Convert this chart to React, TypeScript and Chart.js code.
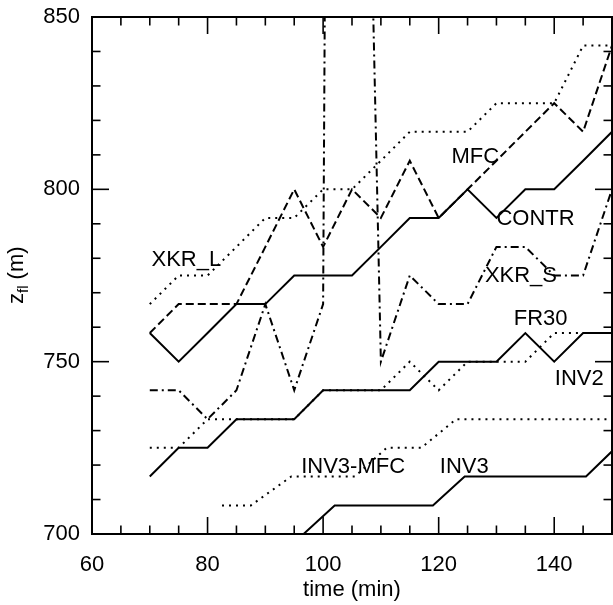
import React, { useEffect, useRef } from "react";
import { Chart, registerables } from "chart.js";
Chart.register(...registerables);

const FONT = "'Liberation Sans', Arial, Helvetica, sans-serif";

// x ticks / y ticks
const xMajorTicks = [60, 80, 100, 120, 140];
const yMajorTicks = [700, 750, 800, 850];

// common sampling times (min)
const times = [70, 75, 80, 85, 90, 95, 100, 105, 110, 115, 120, 125, 130, 135, 140, 145, 150];

const contr = [758.3, 750, 758.3, 766.7, 766.7, 775, 775, 775, 783.3, 791.7, 791.7, 800, 791.7, 800, 800, 808.3, 816.7];
const inv2 = [716.7, 725, 725, 733.3, 733.3, 733.3, 741.7, 741.7, 741.7, 741.7, 750, 750, 750, 758.3, 750, 758.3, 758.3];
const fr30 = [725, 725, 733.3, 733.3, 733.3, 733.3, 741.7, 741.7, 741.7, 750, 741.7, 750, 750, 750, 758.3, 758.3, 758.3];
const mfc = [758.3, 766.7, 766.7, 766.7, 783.3, 800, 783.3, 800, 791.7, 808.3, 791.7, 800, 808.3, 816.7, 825, 816.7, 841.7];
const xkrL = [766.7, 775, 775, 783.3, 791.7, 791.7, 800, 800, 808.3, 816.7, 816.7, 816.7, 825, 825, 825, 841.7, 841.7];

const xkrSTimes = [70, 75, 80, 85, 90, 95, 100, 102, 110, 115, 120, 125, 130, 135, 140, 145, 150];
const xkrS = [741.7, 741.7, 733.3, 741.7, 766.7, 741.7, 766.7, 1360, 750, 775, 766.7, 766.7, 783.3, 783.3, 775, 775, 800];

const inv3Times = [95, 102, 119, 124.5, 145.5, 150];
const inv3 = [697.5, 708.3, 708.3, 716.7, 716.7, 724];

const inv3MfcTimes = [82.5, 87.5, 94.5, 105.5, 111, 117, 123, 150];
const inv3Mfc = [708.3, 708.3, 716.7, 716.7, 725, 725, 733.3, 733.3];

// curve labels anchored in data coordinates (time, height)
const curveLabels = [
  { text: "XKR_L", t: 70.3, z: 777.8 },
  { text: "MFC", t: 122.2, z: 807.6 },
  { text: "CONTR", t: 130.0, z: 789.7 },
  { text: "XKR_S", t: 128.0, z: 773.2 },
  { text: "FR30", t: 133.0, z: 760.6 },
  { text: "INV2", t: 140.1, z: 743.2 },
  { text: "INV3-MFC", t: 96.2, z: 717.8 },
  { text: "INV3", t: 120.2, z: 717.8 },
];

const pts = (xs: number[], ys: number[]) => xs.map((x, i) => ({ x, y: ys[i] }));

const SOLID: number[] = [];
const DASHED = [8, 4];
const DOTTED = [2, 5];
const DASHDOT = [8, 4, 2, 4];

const mk = (label: string, data: any[], dash: number[]) => ({
  label,
  data,
  borderColor: "#000",
  backgroundColor: "#000",
  borderWidth: 2,
  borderDash: dash,
  pointRadius: 0,
  tension: 0,
  fill: false,
});

const framePlugin = {
  id: "frameTicks",
  afterDatasetsDraw(chart: any) {
    const { ctx, chartArea, scales } = chart;
    const { left, right, top, bottom } = chartArea;
    const x = scales.x;
    const y = scales.y;
    ctx.save();
    ctx.strokeStyle = "#000";
    ctx.lineWidth = 1.6;
    ctx.setLineDash([]);
    const line = (x1: number, y1: number, x2: number, y2: number) => {
      ctx.beginPath();
      ctx.moveTo(x1, y1);
      ctx.lineTo(x2, y2);
      ctx.stroke();
    };
    x.ticks.forEach((t: any) => {
      const px = x.getPixelForValue(t.value);
      const len = xMajorTicks.includes(t.value) ? 17 : 8.5;
      line(px, bottom, px, bottom - len);
      line(px, top, px, top + len);
    });
    y.ticks.forEach((t: any) => {
      const py = y.getPixelForValue(t.value);
      const len = yMajorTicks.includes(t.value) ? 17 : 8.5;
      line(left, py, left + len, py);
      line(right, py, right - len, py);
    });
    ctx.lineWidth = 2;
    ctx.strokeRect(left, top, right - left, bottom - top);

    // curve labels
    ctx.fillStyle = "#000";
    ctx.font = `22px ${FONT}`;
    ctx.textAlign = "left";
    ctx.textBaseline = "alphabetic";
    curveLabels.forEach((l) => {
      ctx.fillText(l.text, x.getPixelForValue(l.t), y.getPixelForValue(l.z));
    });

    // y title with subscript
    ctx.translate(23, 304);
    ctx.rotate(-Math.PI / 2);
    ctx.font = `22px ${FONT}`;
    ctx.fillText("z", 0, 0);
    let w = ctx.measureText("z").width;
    ctx.font = `15px ${FONT}`;
    ctx.fillText("fl", w, 5);
    w += ctx.measureText("fl").width;
    ctx.font = `22px ${FONT}`;
    ctx.fillText(" (m)", w, 0);
    ctx.restore();
  },
};

export default function App() {
  const ref = useRef<HTMLCanvasElement>(null);
  useEffect(() => {
    const canvas = ref.current!;
    const chart = new Chart(canvas, {
      type: "line",
      data: {
        datasets: [
          mk("CONTR", pts(times, contr), SOLID),
          mk("INV2", pts(times, inv2), SOLID),
          mk("INV3", pts(inv3Times, inv3), SOLID),
          mk("MFC", pts(times, mfc), DASHED),
          mk("XKR_L", pts(times, xkrL), DOTTED),
          mk("FR30", pts(times, fr30), DOTTED),
          mk("INV3-MFC", pts(inv3MfcTimes, inv3Mfc), DOTTED),
          mk("XKR_S", pts(xkrSTimes, xkrS), DASHDOT),
        ] as any,
      },
      options: {
        animation: false,
        responsive: false,
        maintainAspectRatio: false,
        layout: { autoPadding: false, padding: { top: 17, right: 1, left: 0, bottom: 0 } },
        plugins: { legend: { display: false }, tooltip: { enabled: false }, title: { display: false } },
        scales: {
          x: {
            type: "linear",
            min: 60,
            max: 150,
            grid: { display: false, drawTicks: false },
            border: { display: false },
            ticks: {
              stepSize: 5,
              includeBounds: false,
              autoSkip: false,
              maxRotation: 0,
              padding: 18,
              color: "#000",
              font: { family: FONT, size: 22 },
              callback: (v: any) => (xMajorTicks.includes(Number(v)) ? String(v) : ""),
            },
            title: {
              display: true,
              text: "time (min)",
              color: "#000",
              font: { family: FONT, size: 22 },
              padding: { top: 0, bottom: 2 },
            },
            afterFit: (s: any) => {
              s.height = 71;
              s.paddingLeft = 0;
              s.paddingRight = 0;
            },
          },
          y: {
            type: "linear",
            min: 700,
            max: 850,
            grid: { display: false, drawTicks: false },
            border: { display: false },
            ticks: {
              stepSize: 10,
              includeBounds: false,
              autoSkip: false,
              padding: 12,
              color: "#000",
              font: { family: FONT, size: 22 },
              callback: (v: any) => (yMajorTicks.includes(Number(v)) ? String(v) : ""),
            },
            afterFit: (s: any) => {
              s.width = 92;
              s.paddingTop = 0;
              s.paddingBottom = 0;
            },
          },
        },
      } as any,
      plugins: [framePlugin],
    });
    return () => chart.destroy();
  }, []);
  return (
    <div style={{ position: "fixed", left: 0, top: 0, width: 613, height: 605, background: "#fff" }}>
      <canvas ref={ref} width={613} height={605} style={{ width: 613, height: 605, display: "block" }} />
    </div>
  );
}
